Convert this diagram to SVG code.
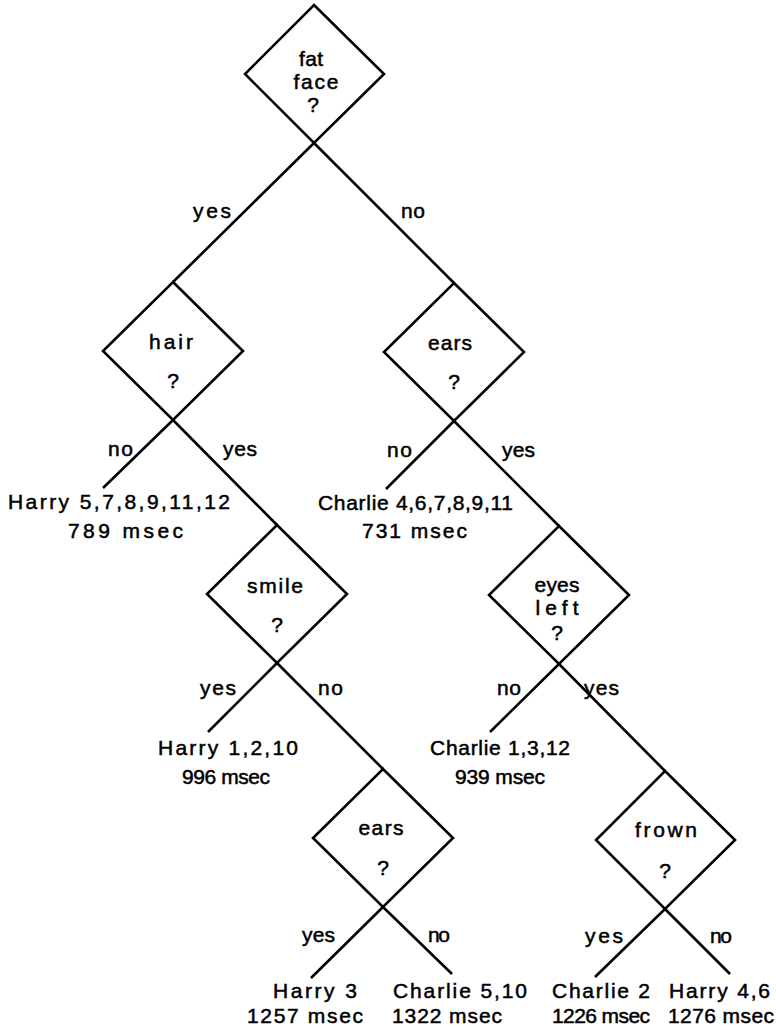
<svg xmlns="http://www.w3.org/2000/svg" width="776" height="1030" viewBox="0 0 776 1030">
<style>
.d{fill:none;stroke:#000;stroke-width:2.6;stroke-linejoin:miter}
.c line{stroke:#000;stroke-width:2.6}
text{font-family:"Liberation Sans",Arial,sans-serif;font-size:21px;fill:#000;stroke:#000;stroke-width:0.5}
.m{text-anchor:middle}
</style>
<rect width="776" height="1030" fill="#fff"/>
<g id="connectors" class="c">
<line x1="314" y1="143" x2="173" y2="282"/>
<line x1="314" y1="143" x2="454" y2="283"/>
<line x1="173" y1="420" x2="103" y2="488"/>
<line x1="173" y1="420" x2="277" y2="525"/>
<line x1="454" y1="421" x2="386" y2="489"/>
<line x1="454" y1="421" x2="559" y2="526"/>
<line x1="277" y1="663" x2="208" y2="732"/>
<line x1="277" y1="663" x2="383" y2="769"/>
<line x1="559" y1="664" x2="490" y2="732"/>
<line x1="559" y1="664" x2="665" y2="771"/>
<line x1="383" y1="907" x2="311" y2="978"/>
<line x1="383" y1="907" x2="452" y2="974"/>
<line x1="665" y1="909" x2="595" y2="977"/>
<line x1="665" y1="909" x2="730" y2="974"/>
</g>
<g id="labels">
<text x="193" y="218" textLength="38">yes</text>
<text x="401" y="218" textLength="24">no</text>
<text x="108" y="456" textLength="25">no</text>
<text x="223" y="456" textLength="34">yes</text>
<text x="387" y="457" textLength="25">no</text>
<text x="502" y="457" textLength="33">yes</text>
<text x="200" y="695" textLength="36">yes</text>
<text x="318" y="695" textLength="25">no</text>
<text x="497" y="695" textLength="24">no</text>
<text x="584" y="695" textLength="35">yes</text>
<text x="302" y="942" textLength="33">yes</text>
<text x="428" y="942" textLength="22">no</text>
<text x="585" y="943" textLength="38">yes</text>
<text x="710" y="943" textLength="22">no</text>
</g>
<g id="n-fatface">
<polygon class="d" points="314,5 384,74 314,143 245,74"/>
<text class="m" x="311" y="66" textLength="24">fat</text>
<text class="m" x="316" y="89" textLength="45">face</text>
<text class="m" x="313" y="112">?</text>
</g>
<g id="n-hair">
<polygon class="d" points="173,282 243,351 173,420 103,351"/>
<text class="m" x="171" y="349" textLength="44">hair</text>
<text class="m" x="173" y="388">?</text>
</g>
<g id="n-ears1">
<polygon class="d" points="454,283 524,352 454,421 384,352"/>
<text class="m" x="450" y="350" textLength="44">ears</text>
<text class="m" x="454" y="389">?</text>
</g>
<g id="n-smile">
<polygon class="d" points="277,525 347,594 277,663 207,594"/>
<text class="m" x="275" y="593" textLength="56">smile</text>
<text class="m" x="277" y="632">?</text>
</g>
<g id="n-eyesleft">
<polygon class="d" points="559,526 629,595 559,664 489,595"/>
<text class="m" x="557" y="592" textLength="45">eyes</text>
<text class="m" x="557" y="615" textLength="43">left</text>
<text class="m" x="557" y="640">?</text>
</g>
<g id="n-ears2">
<polygon class="d" points="383,769 453,838 383,907 313,838"/>
<text class="m" x="381" y="835" textLength="45">ears</text>
<text class="m" x="383" y="875">?</text>
</g>
<g id="n-frown">
<polygon class="d" points="665,771 735,840 665,909 596,840"/>
<text class="m" x="666" y="837" textLength="62">frown</text>
<text class="m" x="665" y="878">?</text>
</g>
<g id="leaf-harry1">
<text x="8" y="509" textLength="222">Harry 5,7,8,9,11,12</text>
<text x="68" y="538" textLength="115">789 msec</text>
</g>
<g id="leaf-charlie1">
<text x="318" y="510" textLength="195">Charlie 4,6,7,8,9,11</text>
<text x="362" y="538" textLength="105">731 msec</text>
</g>
<g id="leaf-harry2">
<text x="158" y="755" textLength="140">Harry 1,2,10</text>
<text x="182" y="784" textLength="88">996 msec</text>
</g>
<g id="leaf-charlie2">
<text x="430" y="755" textLength="140">Charlie 1,3,12</text>
<text x="455" y="784" textLength="90">939 msec</text>
</g>
<g id="leaf-harry3">
<text x="273" y="998" textLength="84">Harry 3</text>
<text x="247" y="1023" textLength="116">1257 msec</text>
</g>
<g id="leaf-charlie3">
<text x="393" y="998" textLength="134">Charlie 5,10</text>
<text x="392" y="1023" textLength="110">1322 msec</text>
</g>
<g id="leaf-charlie4">
<text x="552" y="998" textLength="98">Charlie 2</text>
<text x="552" y="1023" textLength="98">1226 msec</text>
</g>
<g id="leaf-harry4">
<text x="669" y="998" textLength="101">Harry 4,6</text>
<text x="668" y="1023" textLength="106">1276 msec</text>
</g>
</svg>
